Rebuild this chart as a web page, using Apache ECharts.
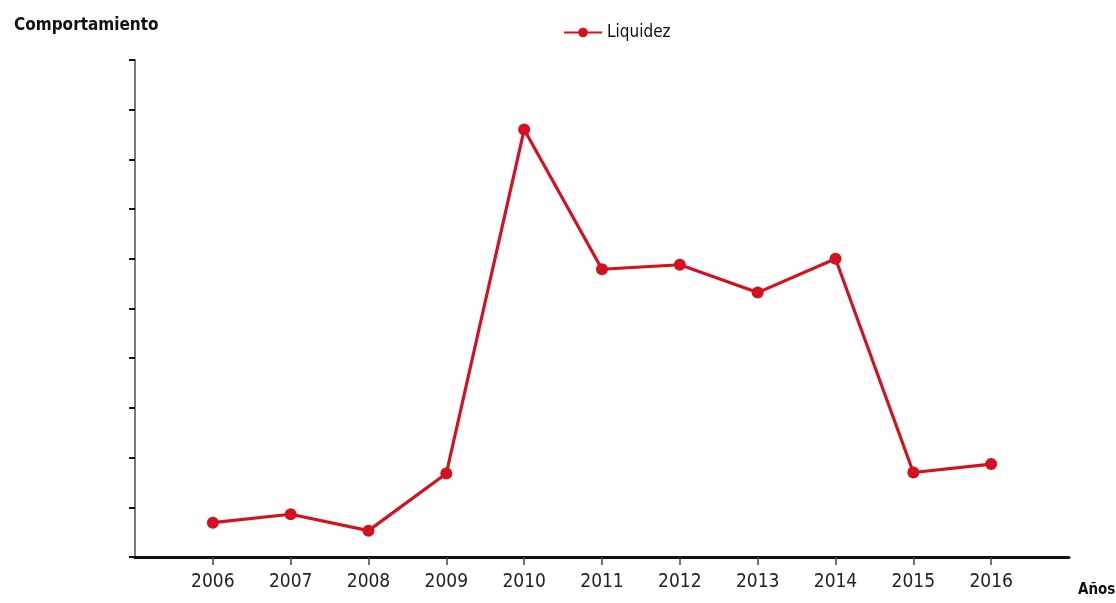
<!DOCTYPE html>
<html>
<head>
<meta charset="utf-8">
<script src="https://cdn.jsdelivr.net/npm/echarts@6/dist/echarts.min.js"></script>
<style>
  html, body { margin: 0; padding: 0; background: #fff; }
  #chart { width: 1116px; height: 603px; }
</style>
</head>
<body>
<div id="chart"></div>
<script>
// Years shown on the horizontal axis (blank slots pad both ends)
const years = ['', '2006', '2007', '2008', '2009', '2010', '2011', '2012', '2013', '2014', '2015', '2016', ''];
// Liquidity behaviour per year
const liquidez = [null, 0.69, 0.86, 0.53, 1.68, 8.6, 5.79, 5.88, 5.32, 6.0, 1.7, 1.87, null];

const FONT = "'Liberation Sans Narrow', 'DejaVu Sans Condensed', 'Liberation Sans', sans-serif";
const RED = '#d5101f';

const chart = echarts.init(document.getElementById('chart'), null, { renderer: 'canvas' });
chart.setOption({
  backgroundColor: '#ffffff',
  animation: false,
  title: {
    text: 'Comportamiento',
    left: 9,
    top: 12,
    textStyle: { fontFamily: FONT, fontSize: 17, fontWeight: 'bold', color: '#111' }
  },
  legend: {
    data: ['Liquidez'],
    left: 558,
    top: 19,
    itemWidth: 38,
    itemHeight: 12,
    itemGap: 8,
    textStyle: { fontFamily: FONT, fontSize: 17, color: '#111' }
  },
  grid: { left: 135, right: 47, top: 60, bottom: 46, containLabel: false, outerBoundsMode: 'none' },
  xAxis: {
    type: 'category',
    data: years,
    boundaryGap: false,
    name: 'Años',
    nameLocation: 'end',
    nameGap: 9,
    nameTextStyle: {
      fontFamily: FONT, fontSize: 15, fontWeight: 'bold', color: '#111',
      verticalAlign: 'top', padding: [26, 0, 0, 0]
    },
    axisLine: { lineStyle: { color: '#111', width: 3 } },
    axisTick: {
      show: true,
      length: 8,
      interval: (i, v) => v !== '',
      lineStyle: { color: '#444', width: 1.5 }
    },
    axisLabel: {
      interval: (i, v) => v !== '',
      margin: 16,
      fontFamily: FONT, fontSize: 19, color: '#222'
    },
    splitLine: { show: false }
  },
  yAxis: {
    type: 'value',
    min: 0,
    max: 10,
    interval: 1,
    axisLine: { show: true, lineStyle: { color: '#7a7a7a', width: 2 } },
    axisTick: { show: true, length: 6, lineStyle: { color: '#111', width: 2 } },
    axisLabel: { show: false },
    splitLine: { show: false }
  },
  series: [{
    name: 'Liquidez',
    type: 'line',
    data: liquidez,
    symbol: 'circle',
    symbolSize: 12,
    connectNulls: false,
    lineStyle: { color: RED, width: 3.2 },
    itemStyle: { color: RED }
  }]
});
</script>
</body>
</html>
